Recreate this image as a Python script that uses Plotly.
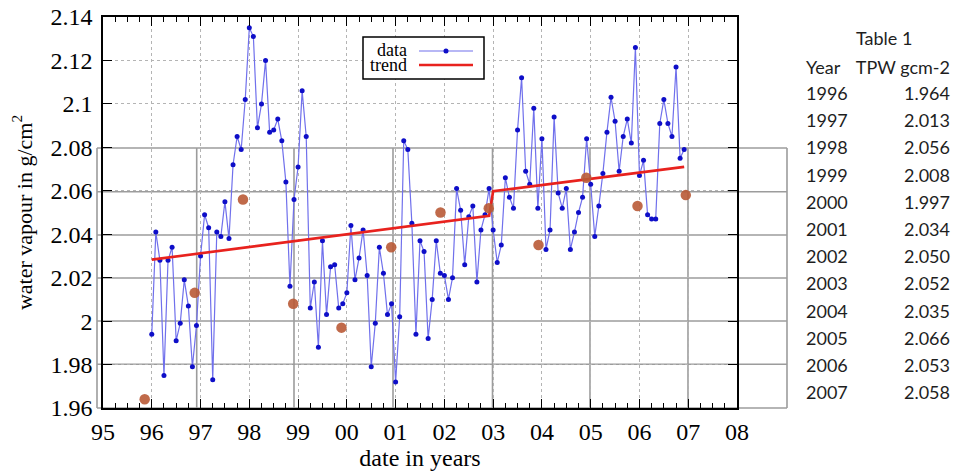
import plotly.graph_objects as go

# ---------------- data ----------------
start_year = 96  # first monthly value (Jan 1996), years counted as on the axis (95 ... 108)
monthly_tpw = [
    1.994, 2.041, 2.028, 1.975, 2.028, 2.034, 1.991, 1.999, 2.019, 2.007, 1.979, 1.998,  # 1996
    2.030, 2.049, 2.043, 1.973, 2.041, 2.039, 2.055, 2.038, 2.072, 2.085, 2.079, 2.102,  # 1997
    2.135, 2.131, 2.089, 2.100, 2.120, 2.087, 2.088, 2.093, 2.083, 2.064, 2.016, 2.056,  # 1998
    2.071, 2.106, 2.085, 2.006, 2.018, 1.988, 2.037, 2.003, 2.025, 2.026, 2.006, 2.008,  # 1999
    2.013, 2.044, 2.019, 2.029, 2.042, 2.021, 1.979, 1.999, 2.034, 2.022, 2.003, 2.008,  # 2000
    1.972, 2.002, 2.083, 2.079, 2.045, 1.994, 2.037, 2.032, 1.992, 2.010, 2.037, 2.022,  # 2001
    2.021, 2.010, 2.020, 2.061, 2.051, 2.026, 2.048, 2.053, 2.018, 2.042, 2.049, 2.061,  # 2002
    2.042, 2.027, 2.035, 2.066, 2.057, 2.052, 2.088, 2.112, 2.069, 2.063, 2.098, 2.052,  # 2003
    2.084, 2.033, 2.042, 2.094, 2.059, 2.052, 2.061, 2.033, 2.041, 2.050, 2.057, 2.084,  # 2004
    2.063, 2.039, 2.053, 2.068, 2.087, 2.103, 2.092, 2.069, 2.085, 2.093, 2.082, 2.126,  # 2005
    2.067, 2.074, 2.049, 2.047, 2.047, 2.091, 2.102, 2.091, 2.085, 2.117, 2.075, 2.079,  # 2006
]
month_x = [start_year + i / 12 for i in range(len(monthly_tpw))]

trend_x = [96.0, 102.917, 103.0, 106.917]
trend_y = [2.0283, 2.0485, 2.0598, 2.0710]

table_years = [1996, 1997, 1998, 1999, 2000, 2001, 2002, 2003, 2004, 2005, 2006, 2007]
table_tpw = [1.964, 2.013, 2.056, 2.008, 1.997, 2.034, 2.050, 2.052, 2.035, 2.066, 2.053, 2.058]
annual_x = [95.855, 96.88, 97.87, 98.9, 99.89, 100.91, 101.92, 102.91, 103.93, 104.91, 105.96, 106.95]

x_tickvals = list(range(95, 109))
x_ticktext = ["95", "96", "97", "98", "99", "00", "01", "02", "03", "04", "05", "06", "07", "08"]
y_tickvals = [1.96, 1.98, 2.00, 2.02, 2.04, 2.06, 2.08, 2.10, 2.12, 2.14]
y_ticktext = ["1.96", "1.98", "2", "2.02", "2.04", "2.06", "2.08", "2.1", "2.12", "2.14"]

# ---------------- layout geometry ----------------
W, H = 960, 472
ML, MR, MT, MB = 103, 0, 17, 64
PW = W - ML - MR
PH = H - MT - MB
AXIS_RIGHT_PX = 737


def px_x(px):
    return (px - ML) / PW


def px_y(py):
    return (H - MB - py) / PH


SERIF = "Liberation Serif"
SANS = "Lato"
TXT = "#1e1e1e"
DATA_LINE = "#7070ec"
DATA_MARK = "#0e0ec8"
TREND = "#e8221e"

fig = go.Figure()

fig.add_trace(go.Scatter(
    x=month_x, y=monthly_tpw, mode="lines+markers", name="data", showlegend=False,
    line=dict(color=DATA_LINE, width=1.2),
    marker=dict(color=DATA_MARK, size=5),
    cliponaxis=False,
))
fig.add_trace(go.Scatter(
    x=trend_x, y=trend_y, mode="lines", name="trend", showlegend=False,
    line=dict(color=TREND, width=2.6),
))
fig.add_trace(go.Scatter(
    x=annual_x, y=table_tpw, mode="markers", name="annual mean", showlegend=False,
    marker=dict(color="#b95a36", size=10.5, opacity=0.9),
    cliponaxis=False,
))

fig.add_trace(go.Table(
    domain=dict(x=[px_x(798), px_x(958)], y=[0.0, px_y(52.5)]),
    columnwidth=[52, 108],
    header=dict(
        values=["Year", "TPW\u00a0gcm-2"], align=["left", "right"],
        fill_color="white", line_color="white", height=26,
        font=dict(family=SANS, size=18, color=TXT),
    ),
    cells=dict(
        values=[table_years, [f"{v:.3f}" for v in table_tpw]], align=["left", "right"],
        fill_color="white", line_color="white", height=27.2,
        font=dict(family=SANS, size=18, color=TXT),
    ),
))

# spreadsheet-like grey cell lines behind the chart
grey_cols_px = [97, 196.7, 294, 393, 492.5, 590, 688, 787]
grey_rows_px = [148, 191.7, 235, 278, 321, 364.3, 408]
shapes = []
for cx in grey_cols_px:
    shapes.append(dict(type="line", xref="paper", yref="paper",
                       x0=px_x(cx), x1=px_x(cx), y0=px_y(grey_rows_px[0]), y1=px_y(grey_rows_px[-1]),
                       line=dict(color="#9c9c9c", width=1.6), layer="below"))
for ry in grey_rows_px:
    shapes.append(dict(type="line", xref="paper", yref="paper",
                       x0=px_x(grey_cols_px[0]), x1=px_x(grey_cols_px[-1]), y0=px_y(ry), y1=px_y(ry),
                       line=dict(color="#9c9c9c", width=1.6), layer="below"))

# key box (gnuplot style: label left, sample right)
key_l, key_r, key_t, key_b = 363, 484, 37, 79
shapes.append(dict(type="rect", xref="paper", yref="paper",
                   x0=px_x(key_l), x1=px_x(key_r), y0=px_y(key_b), y1=px_y(key_t),
                   line=dict(color="black", width=1.5), fillcolor="white", layer="above"))
shapes.append(dict(type="line", xref="paper", yref="paper",
                   x0=px_x(419), x1=px_x(473), y0=px_y(51), y1=px_y(51),
                   line=dict(color=DATA_LINE, width=1.2), layer="above"))
shapes.append(dict(type="circle", xref="paper", yref="paper",
                   x0=px_x(443.5), x1=px_x(448.5), y0=px_y(53.5), y1=px_y(48.5),
                   line=dict(color=DATA_MARK, width=0), fillcolor=DATA_MARK, layer="above"))
shapes.append(dict(type="line", xref="paper", yref="paper",
                   x0=px_x(419), x1=px_x(473), y0=px_y(65), y1=px_y(65),
                   line=dict(color=TREND, width=2.6), layer="above"))

annotations = [
    dict(text="Table 1", xref="paper", yref="paper", x=px_x(884), y=px_y(38),
         xanchor="center", yanchor="middle", showarrow=False,
         font=dict(family=SANS, size=18, color=TXT)),
    dict(text="data", xref="paper", yref="paper", x=px_x(408), y=px_y(50.5),
         xanchor="right", yanchor="middle", showarrow=False, borderpad=0,
         font=dict(family=SERIF, size=18, color="black")),
    dict(text="trend", xref="paper", yref="paper", x=px_x(408), y=px_y(65.5),
         xanchor="right", yanchor="middle", showarrow=False, borderpad=0,
         font=dict(family=SERIF, size=18, color="black")),
]

minor_x = [95 + q / 4 for q in range(0, 13 * 4 + 1) if q % 4 != 0]

fig.update_layout(
    width=W, height=H,
    margin=dict(l=ML, r=MR, t=MT, b=MB, autoexpand=False),
    paper_bgcolor="white", plot_bgcolor="rgba(0,0,0,0)",
    font=dict(family=SERIF, size=24, color="black"),
    shapes=shapes,
    annotations=annotations,
    showlegend=False,
    xaxis=dict(
        domain=[0, (AXIS_RIGHT_PX - ML) / PW], automargin=False,
        range=[95, 108], tickmode="array", tickvals=x_tickvals, ticktext=x_ticktext,
        ticks="inside", ticklen=9, tickwidth=1.3, tickcolor="black",
        minor=dict(tickmode="array", tickvals=minor_x, ticks="inside", ticklen=5,
                   tickwidth=1.1, tickcolor="black", showgrid=False),
        showline=True, linecolor="black", linewidth=1.6, mirror="allticks",
        showgrid=True, gridcolor="#b4b4b4", griddash="dot", gridwidth=1,
        zeroline=False, ticklabelstandoff=1,
        tickfont=dict(family=SERIF, size=24),
        title=dict(text="date in years", font=dict(family=SERIF, size=24), standoff=3),
    ),
    yaxis=dict(
        automargin=False,
        range=[1.96, 2.14], tickmode="array", tickvals=y_tickvals, ticktext=y_ticktext,
        ticks="inside", ticklen=9, tickwidth=1.3, tickcolor="black",
        showline=True, linecolor="black", linewidth=1.6, mirror="allticks",
        showgrid=True, gridcolor="#b4b4b4", griddash="dot", gridwidth=1,
        zeroline=False, ticklabelstandoff=4,
        tickfont=dict(family=SERIF, size=24),
        title=dict(text="water vapour in g/cm<sup>2</sup>", font=dict(family=SERIF, size=22), standoff=12),
    ),
)

fig.write_html("out.html", config={"displayModeBar": False},
               post_script="document.body.style.margin='0px';")
